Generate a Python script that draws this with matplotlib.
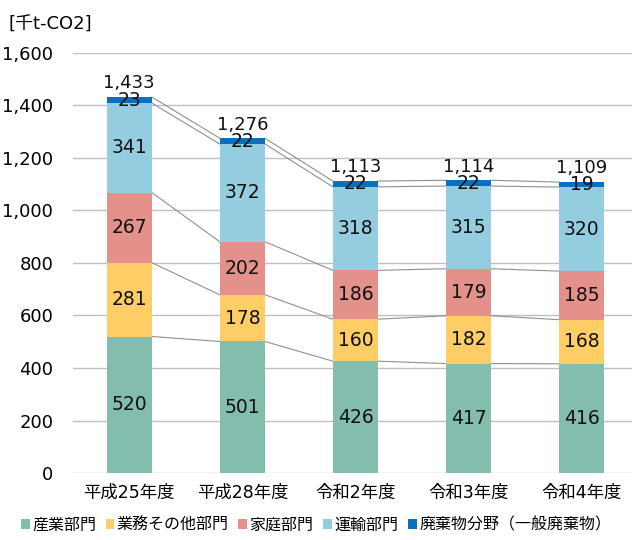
import numpy as np
import matplotlib
matplotlib.use("Agg")
import matplotlib.pyplot as plt

# wide digits from DejaVu, Japanese glyphs from Noto CJK
plt.rcParams['font.family'] = ['DejaVu Sans', 'Noto Sans CJK JP']

years = ["平成25年度", "平成28年度", "令和2年度", "令和3年度", "令和4年度"]
sectors = ["産業部門", "業務その他部門", "家庭部門", "運輸部門", "廃棄物分野（一般廃棄物）"]
industry = [520, 501, 426, 417, 416]
business = [281, 178, 160, 182, 168]
household = [267, 202, 186, 179, 185]
transport = [341, 372, 318, 315, 320]
waste = [23, 22, 22, 22, 19]
totals = [1433, 1276, 1113, 1114, 1109]

colors = ["#82bdae", "#ffcd66", "#e3918a", "#93cddf", "#0a6fbf"]
series = [industry, business, household, transport, waste]

fig = plt.figure(figsize=(6.32, 5.4), dpi=100)
ax = fig.add_axes([0.115, 0.124, 0.895, 0.778])

x = np.arange(len(years))
w = 0.4
bottom = np.zeros(len(years))
tops = []
for vals, col, name in zip(series, colors, sectors):
    vals = np.array(vals, dtype=float)
    ax.bar(x, vals, w, bottom=bottom, color=col, label=name, zorder=3)
    for xi, b, v in zip(x, bottom, vals):
        ax.text(xi, b + v / 2, f"{int(v)}", ha="center", va="center",
                fontsize=13.5, color="#111111", zorder=5)
    bottom = bottom + vals
    tops.append(bottom.copy())

# connector lines between bars
for t in tops:
    for i in range(len(years) - 1):
        ax.plot([x[i] + w / 2, x[i + 1] - w / 2], [t[i], t[i + 1]],
                color="#909090", lw=0.8, zorder=2)

for xi, t, tot in zip(x, bottom, totals):
    ax.text(xi, t + 18, f"{tot:,}", ha="center", va="bottom", fontsize=13,
            color="#111111", zorder=5)

ax.set_ylim(0, 1600)
ax.set_xlim(-0.5, 4.5)
ax.set_yticks(np.arange(0, 1601, 200))
ax.set_yticklabels([f"{v:,}" for v in range(0, 1601, 200)], fontsize=13)
ax.set_xticks(x)
ax.set_xticklabels(years, fontsize=12.5)
ax.grid(axis="y", color="#c0c0c0", lw=1, zorder=0)
for s in ax.spines.values():
    s.set_visible(False)
ax.tick_params(length=0)
ax.tick_params(axis="y", pad=14)
ax.tick_params(axis="x", pad=8)

fig.text(0.013, 0.955, "[千t-CO2]", fontsize=13, ha="left", va="center")

leg = fig.legend(loc="lower center", bbox_to_anchor=(0.5, 0.0), ncol=5,
                 frameon=False, fontsize=11.5, handlelength=0.55, handleheight=0.55,
                 handletextpad=0.15, columnspacing=0.6, borderaxespad=0.05)

fig.savefig("out.png", dpi=100)
